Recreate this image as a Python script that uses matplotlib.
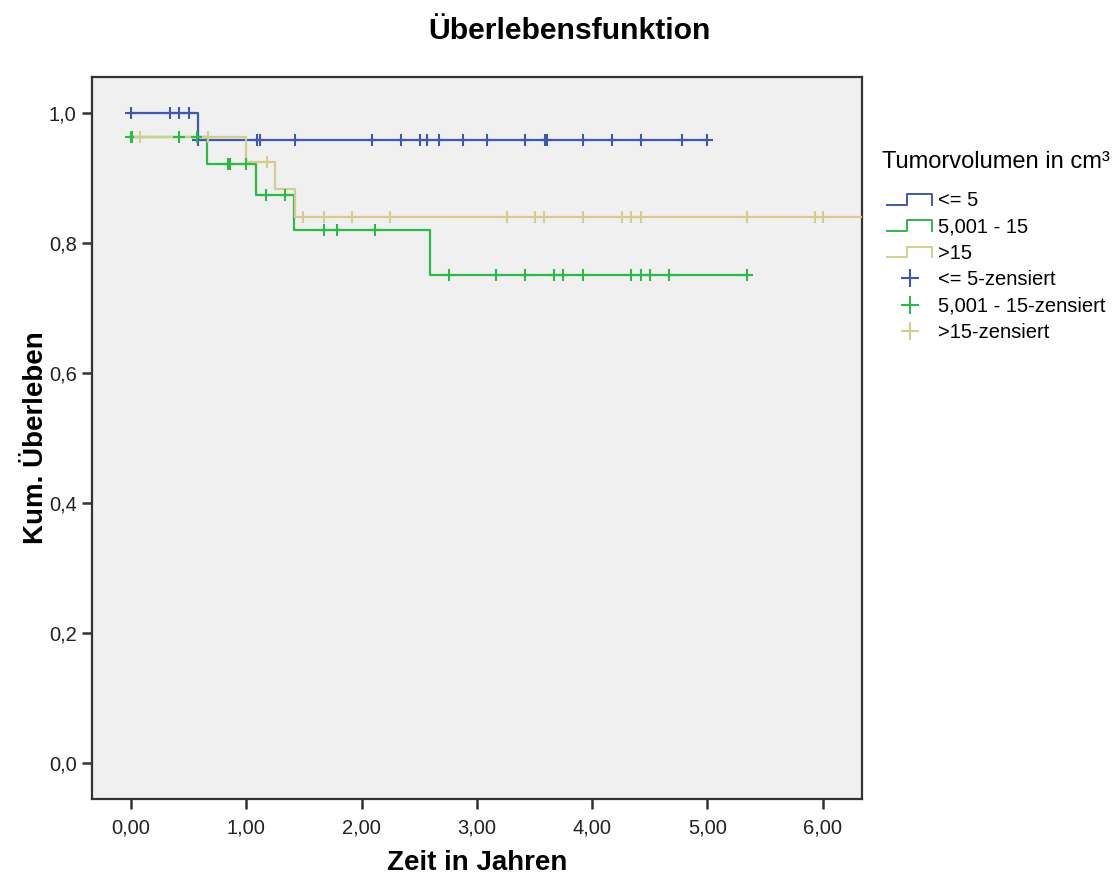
import numpy as np
import matplotlib
matplotlib.use("Agg")
import matplotlib.pyplot as plt
from matplotlib.lines import Line2D
from matplotlib.legend_handler import HandlerBase

plt.rcParams['font.family'] = ['Liberation Sans', 'DejaVu Sans']

# ---- data ----
group_labels = ["<= 5", "5,001 - 15", ">15"]
censor_labels = ["<= 5-zensiert", "5,001 - 15-zensiert", ">15-zensiert"]

g1_step_t = [0.0, 0.58, 5.0]
g1_step_s = [1.0, 0.958, 0.958]
g1_cens_t = [0.0, 0.34, 0.42, 0.50, 0.58, 1.09, 1.12, 1.42, 2.09, 2.34, 2.51,
             2.57, 2.67, 2.88, 3.09, 3.42, 3.59, 3.61, 3.92, 4.17, 4.42, 4.78, 5.0]

g2_step_t = [0.0, 0.66, 1.08, 1.41, 2.59, 5.34]
g2_step_s = [0.963, 0.921, 0.873, 0.819, 0.750, 0.750]
g2_cens_t = [0.0, 0.01, 0.42, 0.575, 0.84, 0.86, 1.0, 1.17, 1.34, 1.67, 1.79,
             2.12, 2.76, 3.17, 3.42, 3.67, 3.75, 3.92, 4.34, 4.42, 4.50, 4.67, 5.34]

g3_step_t = [0.0, 1.0, 1.25, 1.42, 6.6]
g3_step_s = [0.963, 0.924, 0.882, 0.840, 0.840]
g3_cens_t = [0.08, 0.67, 1.18, 1.49, 1.67, 1.92, 2.25, 3.26, 3.50, 3.58, 3.92,
             4.26, 4.34, 4.42, 5.34, 5.93, 6.0]

colors = ["#3E58AC", "#2EB848", "#D3CE8F"]

x_ticks = [0, 1, 2, 3, 4, 5, 6]
x_ticklabels = ["0,00", "1,00", "2,00", "3,00", "4,00", "5,00", "6,00"]
y_ticks = [0.0, 0.2, 0.4, 0.6, 0.8, 1.0]
y_ticklabels = ["0,0", "0,2", "0,4", "0,6", "0,8", "1,0"]

# ---- figure ----
W, H = 1119, 875
fig = plt.figure(figsize=(W / 100, H / 100), dpi=100)
fig.patch.set_facecolor("white")
ax = fig.add_axes([92 / W, 1 - 799 / H, (862 - 92) / W, (799 - 77) / H])
ax.set_facecolor("#F0F0F0")

groups = [(g1_step_t, g1_step_s, g1_cens_t),
          (g2_step_t, g2_step_s, g2_cens_t),
          (g3_step_t, g3_step_s, g3_cens_t)]

for i, (st, ss, ct) in enumerate(groups):
    ax.step(st, ss, where="post", color=colors[i], lw=1.6, zorder=2 + i)
for i, (st, ss, ct) in enumerate(groups):
    st_a = np.asarray(st)
    ss_a = np.asarray(ss)
    idx = np.searchsorted(st_a, np.asarray(ct), side="right") - 1
    ax.plot(ct, ss_a[idx], linestyle="none", marker="+", markersize=9,
            markeredgewidth=1.5, color=colors[i], zorder=6 + i)

ax.set_xlim(-0.338, 6.34)
ax.set_ylim(-0.0553, 1.055)
ax.set_xticks(x_ticks)
ax.set_xticklabels(x_ticklabels)
ax.set_yticks(y_ticks)
ax.set_yticklabels(y_ticklabels)
ax.tick_params(axis="both", direction="out", length=7, width=1.8,
               color="#333333", labelsize=14.5, labelcolor="#222222", pad=4)
ax.tick_params(axis="x", pad=7)
for sp in ax.spines.values():
    sp.set_color("#333333")
    sp.set_linewidth(1.6)

ax.set_xlabel("Zeit in Jahren", fontsize=20, fontweight="bold", labelpad=9)
ax.set_ylabel("Kum. Überleben", fontsize=20, fontweight="bold", labelpad=0)
fig.text(569 / W, 1 - 31 / H, "Überlebensfunktion", fontsize=21.7,
         fontweight="bold", ha="center", va="center")


# ---- legend ----
class StepHandler(HandlerBase):
    def create_artists(self, legend, orig_handle, xdescent, ydescent, width,
                       height, fontsize, trans):
        x0 = -xdescent
        y0 = -ydescent
        xs = [x0, x0 + 0.45 * width, x0 + 0.45 * width, x0 + width, x0 + width]
        ys = [y0 + 0.1 * height, y0 + 0.1 * height, y0 + 0.85 * height,
              y0 + 0.85 * height, y0 + 0.1 * height]
        line = Line2D(xs, ys, color=orig_handle.get_color(), lw=1.4)
        line.set_transform(trans)
        return [line]


fig.text(882 / W, 1 - 162 / H, "Tumorvolumen in cm³", fontsize=17,
         ha="left", va="center")

step_handles = [Line2D([], [], color=c) for c in colors]
cens_handles = [Line2D([], [], color=c, linestyle="none", marker="+",
                       markersize=13, markeredgewidth=1.5) for c in colors]
handler_map = {h: StepHandler() for h in step_handles}
leg = fig.legend(step_handles + cens_handles, group_labels + censor_labels,
                 handler_map=handler_map, loc="upper left",
                 bbox_to_anchor=(887 / W, 1 - 191 / H), frameon=False,
                 fontsize=14.5, handlelength=2.25, handletextpad=0.3,
                 labelspacing=0.37, borderaxespad=0, borderpad=0)

fig.savefig("out.png", dpi=100, facecolor="white")
